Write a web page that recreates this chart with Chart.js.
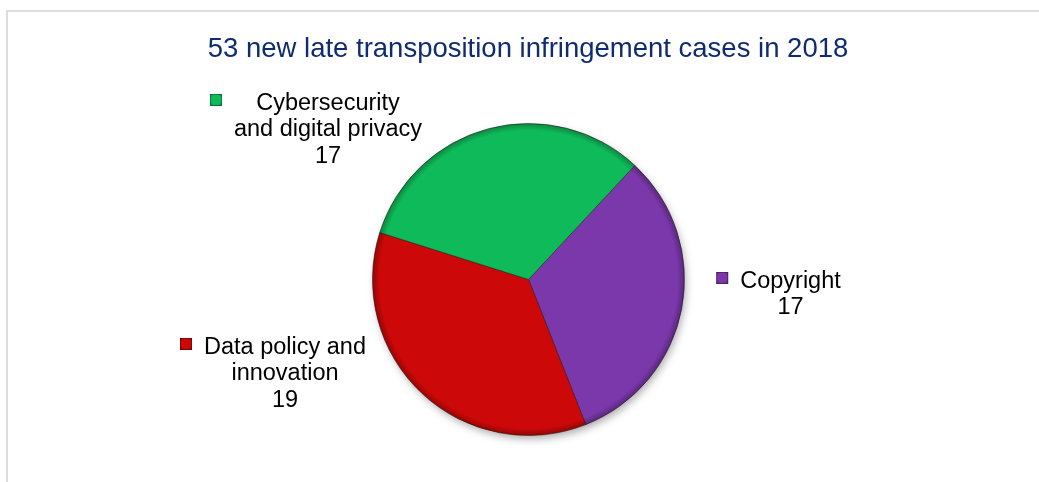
<!DOCTYPE html>
<html>
<head>
<meta charset="utf-8">
<script src="https://cdn.jsdelivr.net/npm/chart.js@4/dist/chart.umd.min.js"></script>
<style>
  html, body { margin: 0; padding: 0; background: #fff; overflow: hidden; }
  #wrap { position: relative; width: 1039px; height: 482px; }
  #frame { position: absolute; left: 6px; top: 10px; width: 1100px; height: 600px;
           border-left: 2px solid #dcdcdc; border-top: 2px solid #dcdcdc; pointer-events: none; }
  #chart { position: absolute; left: 0; top: 0; }
</style>
</head>
<body>
<div id="wrap">
  <div id="frame"></div>
  <canvas id="chart" width="1039" height="482"></canvas>
</div>
<script>
// chart data
const chartTitle = '53 new late transposition infringement cases in 2018';
const categories = [['Copyright'], ['Data policy and', 'innovation'], ['Cybersecurity', 'and digital privacy']];
const caseCounts = [17, 19, 17];
const sliceColors = ['#7a38ab', '#cc0808', '#0fba5a'];
const sliceEdges = ['#4e1f72', '#7d0202', '#077a39'];

// label block placement, offset (px) from the pie centre to first-line baseline / block centre
const labelOffsets = [[262, 8], [-243.5, 74], [-200.5, -170]];

const FONT = '"Liberation Sans", Arial, sans-serif';

//draws title, drop shadow, 3d rim and the data labels
const pieDecor = {
  id: 'pieDecor',
  beforeDatasetsDraw(chart) {
    const arc = chart.getDatasetMeta(0).data[0];
    const ctx = chart.ctx;
    ctx.save();
    ctx.beginPath();
    ctx.arc(arc.x, arc.y, arc.outerRadius - 1, 0, Math.PI * 2);
    ctx.shadowColor = 'rgba(0,0,0,0.35)';
    ctx.shadowBlur = 9;
    ctx.shadowOffsetX = 2;
    ctx.shadowOffsetY = 4;
    ctx.fillStyle = '#fff';
    ctx.fill();
    ctx.restore();
  },
  afterDatasetsDraw(chart) {
    const meta = chart.getDatasetMeta(0);
    const ctx = chart.ctx;
    const cx = meta.data[0].x, cy = meta.data[0].y, r = meta.data[0].outerRadius;

    // rim shading
    ctx.save();
    ctx.beginPath();
    ctx.arc(cx, cy, r, 0, Math.PI * 2);
    ctx.clip();
    const g = ctx.createRadialGradient(cx, cy, r - 7, cx, cy, r);
    g.addColorStop(0, 'rgba(0,0,0,0)');
    g.addColorStop(1, 'rgba(0,0,0,0.28)');
    ctx.fillStyle = g;
    ctx.fillRect(cx - r, cy - r, 2 * r, 2 * r);
    ctx.restore();

    // title
    ctx.save();
    ctx.font = '27.5px ' + FONT;
    ctx.fillStyle = '#102c70';
    ctx.textAlign = 'center';
    ctx.textBaseline = 'alphabetic';
    ctx.fillText(chartTitle, 528, 57);

    // data labels
    ctx.font = '23.5px ' + FONT;
    meta.data.forEach((el, i) => {
      const lines = categories[i].concat([String(caseCounts[i])]);
      const bx = cx + labelOffsets[i][0];
      const by = cy + labelOffsets[i][1];
      let w = 0;
      lines.forEach(t => { w = Math.max(w, ctx.measureText(t).width); });
      ctx.fillStyle = '#000';
      ctx.textAlign = 'center';
      lines.forEach((t, k) => ctx.fillText(t, bx, by + k * 26.7));
      // legend key
      const mx = bx - w / 2 - 18, my = by - 9.5, s = 12;
      const kg = ctx.createRadialGradient(mx, my - 1, 0, mx, my, s * 0.75);
      kg.addColorStop(0, sliceColors[i]);
      kg.addColorStop(0.5, sliceColors[i]);
      kg.addColorStop(1, sliceEdges[i]);
      ctx.fillStyle = kg;
      ctx.fillRect(mx - s / 2, my - s / 2, s, s);
      ctx.strokeStyle = 'rgba(0,0,0,0.25)';
      ctx.lineWidth = 1;
      ctx.strokeRect(mx - s / 2 + 0.5, my - s / 2 + 0.5, s - 1, s - 1);
    });
    ctx.restore();
  }
};

new Chart(document.getElementById('chart'), {
  type: 'pie',
  data: {
    labels: categories,
    datasets: [{
      data: caseCounts,
      backgroundColor: sliceColors,
      borderColor: 'rgba(40,20,20,0.55)',
      borderWidth: 1
    }]
  },
  options: {
    responsive: false,
    animation: false,
    devicePixelRatio: 1,
    events: [],
    rotation: 43,
    layout: { padding: { left: 372, top: 123, right: 354, bottom: 46 } },
    plugins: {
      legend: { display: false },
      title: { display: false },
      tooltip: { enabled: false }
    }
  },
  plugins: [pieDecor]
});
</script>
</body>
</html>
